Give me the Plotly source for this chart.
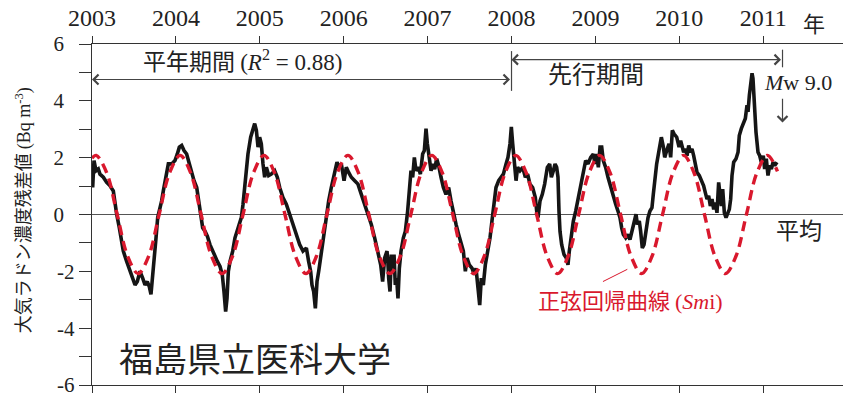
import plotly.graph_objects as go

# Observed radon residuals (Bq m^-3), decimal year vs value
obs_t = [
    2003.008, 2003.024, 2003.048, 2003.075, 2003.095, 2003.135, 2003.175, 2003.215, 2003.254, 2003.274,
    2003.294, 2003.326, 2003.354, 2003.373, 2003.413, 2003.445, 2003.473, 2003.513, 2003.540, 2003.572,
    2003.604, 2003.632, 2003.659, 2003.683, 2003.703, 2003.723, 2003.739, 2003.763, 2003.783, 2003.803,
    2003.830, 2003.850, 2003.882, 2003.910, 2003.950, 2003.989, 2004.017, 2004.041, 2004.069, 2004.097,
    2004.128, 2004.148, 2004.168, 2004.188, 2004.216, 2004.248, 2004.267, 2004.295, 2004.319, 2004.347,
    2004.375, 2004.406, 2004.438, 2004.466, 2004.494, 2004.526, 2004.553, 2004.573, 2004.593, 2004.609,
    2004.625, 2004.645, 2004.677, 2004.704, 2004.744, 2004.780, 2004.800, 2004.820, 2004.839, 2004.859,
    2004.891, 2004.919, 2004.939, 2004.959, 2004.979, 2004.998, 2005.018, 2005.038, 2005.058, 2005.078,
    2005.106, 2005.137, 2005.177, 2005.209, 2005.237, 2005.276, 2005.316, 2005.356, 2005.396, 2005.435,
    2005.475, 2005.515, 2005.555, 2005.582, 2005.606, 2005.622, 2005.642, 2005.662, 2005.682, 2005.702,
    2005.733, 2005.765, 2005.793, 2005.821, 2005.852, 2005.892, 2005.920, 2005.944, 2005.972, 2006.004,
    2006.031, 2006.059, 2006.091, 2006.131, 2006.170, 2006.210, 2006.250, 2006.290, 2006.329, 2006.369,
    2006.409, 2006.441, 2006.464, 2006.488, 2006.516, 2006.524, 2006.536, 2006.552, 2006.568, 2006.584,
    2006.600, 2006.615, 2006.631, 2006.647, 2006.663, 2006.683, 2006.711, 2006.735, 2006.762, 2006.782,
    2006.802, 2006.822, 2006.842, 2006.862, 2006.890, 2006.914, 2006.941, 2006.961, 2006.981, 2006.997,
    2007.013, 2007.041, 2007.060, 2007.084, 2007.108, 2007.132, 2007.160, 2007.188, 2007.219, 2007.251,
    2007.279, 2007.307, 2007.339, 2007.370, 2007.398, 2007.426, 2007.450, 2007.470, 2007.497, 2007.529,
    2007.557, 2007.577, 2007.601, 2007.621, 2007.640, 2007.664, 2007.688, 2007.716, 2007.744, 2007.767,
    2007.791, 2007.815, 2007.847, 2007.875, 2007.903, 2007.935, 2007.958, 2007.982, 2007.998, 2008.014,
    2008.034, 2008.054, 2008.073, 2008.101, 2008.133, 2008.165, 2008.192, 2008.220, 2008.252, 2008.284,
    2008.300, 2008.316, 2008.340, 2008.367, 2008.395, 2008.427, 2008.455, 2008.475, 2008.499, 2008.519,
    2008.538, 2008.554, 2008.566, 2008.578, 2008.598, 2008.626, 2008.653, 2008.673, 2008.689, 2008.713,
    2008.737, 2008.765, 2008.797, 2008.824, 2008.856, 2008.884, 2008.912, 2008.944, 2008.975, 2008.995,
    2009.015, 2009.035, 2009.055, 2009.075, 2009.094, 2009.122, 2009.150, 2009.182, 2009.214, 2009.242,
    2009.269, 2009.293, 2009.313, 2009.333, 2009.361, 2009.388, 2009.412, 2009.436, 2009.460, 2009.484,
    2009.500, 2009.523, 2009.539, 2009.559, 2009.579, 2009.603, 2009.627, 2009.650, 2009.674, 2009.690,
    2009.706, 2009.730, 2009.758, 2009.786, 2009.810, 2009.826, 2009.850, 2009.877, 2009.897, 2009.917,
    2009.937, 2009.969, 2009.997, 2010.016, 2010.052, 2010.072, 2010.092, 2010.112, 2010.131, 2010.151,
    2010.171, 2010.191, 2010.211, 2010.239, 2010.263, 2010.290, 2010.310, 2010.330, 2010.350, 2010.370,
    2010.390, 2010.410, 2010.429, 2010.449, 2010.469, 2010.485, 2010.501, 2010.517, 2010.537, 2010.557,
    2010.580, 2010.596, 2010.612, 2010.628, 2010.648, 2010.676, 2010.700, 2010.715, 2010.739, 2010.767,
    2010.787, 2010.807, 2010.819, 2010.835, 2010.851, 2010.867, 2010.878, 2010.894, 2010.914, 2010.938,
    2010.958, 2010.978, 2011.001, 2011.017, 2011.037, 2011.057, 2011.077, 2011.097, 2011.117, 2011.137,
    2011.164,
]
obs_v = [
    0.95, 1.90, 1.54, 1.60, 1.42, 1.31, 1.13, 1.01, 0.83, 0.36,
    0.01, -0.47, -0.94, -1.29, -1.65, -1.89, -2.12, -2.48, -2.36, -2.00,
    -2.24, -2.48, -2.36, -2.54, -2.81, -2.24, -1.53, -0.82, -0.11, 0.12,
    0.48, 0.83, 1.31, 1.78, 1.78, 1.90, 2.13, 2.37, 2.43, 2.25,
    2.13, 1.90, 1.66, 1.42, 1.19, 0.95, 0.60, 0.12, -0.47, -0.59,
    -0.76, -1.06, -1.29, -1.53, -1.65, -1.83, -2.12, -2.71, -3.42, -2.95,
    -2.00, -1.65, -1.29, -0.82, -0.41, -0.11, 0.36, 0.95, 1.54, 2.13,
    2.72, 3.08, 3.20, 2.96, 2.37, 2.72, 2.49, 1.78, 1.31, 1.66,
    1.37, 1.42, 1.54, 1.31, 0.95, 0.60, 0.36, 0.01, -0.35, -0.70,
    -1.06, -1.29, -1.18, -1.65, -2.00, -2.48, -2.71, -3.30, -2.36, -2.00,
    -1.29, -0.59, 0.01, 0.48, 0.95, 1.42, 1.84, 1.66, 1.78, 1.19,
    1.66, 1.48, 1.31, 1.19, 1.07, 0.71, 0.36, 0.01, -0.35, -0.82,
    -1.29, -1.77, -2.36, -1.53, -1.29, -1.53, -2.24, -2.71, -1.41, -1.89,
    -1.41, -2.48, -2.24, -2.95, -1.89, -1.29, -0.82, -0.59, 0.12, 0.71,
    1.54, 1.31, 2.01, 1.54, 1.66, 1.42, 2.13, 2.25, 3.02, 2.49,
    2.13, 1.54, 1.78, 1.60, 1.96, 1.72, 1.31, 0.95, 0.71, 0.95,
    0.48, 0.01, -0.35, -0.70, -1.06, -1.29, -2.00, -1.53, -1.77, -1.89,
    -2.12, -1.89, -2.60, -3.19, -2.24, -2.48, -1.77, -1.29, -0.82, -0.23,
    0.48, 0.95, 1.19, 1.31, 1.42, 1.78, 2.01, 2.49, 3.08, 2.49,
    1.90, 1.19, 1.66, 1.54, 1.66, 1.31, 1.42, 1.07, 0.95, 0.60,
    0.12, -0.11, 0.48, 0.71, 1.07, 1.66, 1.78, 1.31, 1.54, 1.78,
    1.66, 1.31, 0.12, -0.59, -1.06, -1.41, -1.53, -1.77, -1.29, -0.70,
    -0.23, 0.12, 0.60, 0.95, 1.54, 1.90, 1.78, 2.01, 2.13, 1.78,
    2.13, 1.66, 2.37, 2.37, 1.90, 1.66, 1.31, 0.95, 0.60, 0.36,
    0.12, -0.11, -0.47, -0.70, -0.82, -0.70, -0.88, -0.59, -0.35, 0.01,
    -0.35, -0.23, -0.59, -1.18, -1.06, -0.59, -0.11, 0.12, 0.24, 0.71,
    1.19, 1.78, 2.25, 2.72, 2.37, 2.01, 2.25, 2.49, 2.01, 2.96,
    2.84, 2.72, 2.37, 2.60, 2.19, 2.31, 2.07, 2.43, 2.19, 2.31,
    2.07, 1.72, 1.48, 1.37, 1.19, 1.01, 0.77, 0.54, 0.66, 0.30,
    0.54, 0.18, 0.42, 0.06, 1.13, 0.77, 0.30, 0.89, 0.06, -0.11,
    0.06, 0.18, 0.54, 1.37, 1.84, 1.96, 2.19, 2.78, 3.02, 3.26,
    3.38, 3.85, 3.61, 4.20, 4.56, 4.97, 4.79, 3.85, 2.90, 2.19,
    2.07, 1.84, 2.07, 1.60, 1.96, 1.37, 1.72, 1.60, 1.84, 1.72,
    1.84,
]

# Sine regression curve (Sm_i), read at peaks, troughs, crossings and midpoints
fit_t = [
    2003.000, 2003.050, 2003.175, 2003.300, 2003.425, 2003.550, 2003.675, 2003.800, 2003.925,
    2004.050, 2004.175, 2004.300, 2004.425, 2004.550, 2004.675, 2004.800, 2004.925,
    2005.050, 2005.175, 2005.300, 2005.425, 2005.550, 2005.675, 2005.800, 2005.925,
    2006.050, 2006.175, 2006.300, 2006.425, 2006.550, 2006.675, 2006.800, 2006.925,
    2007.050, 2007.175, 2007.300, 2007.425, 2007.550, 2007.675, 2007.800, 2007.925,
    2008.050, 2008.175, 2008.300, 2008.425, 2008.550, 2008.675, 2008.800, 2008.925,
    2009.050, 2009.175, 2009.300, 2009.425, 2009.550, 2009.675, 2009.800, 2009.925,
    2010.050, 2010.175, 2010.300, 2010.425, 2010.550, 2010.675, 2010.800, 2010.925,
    2011.050, 2011.170,
]
fit_v = [
    1.98, 2.08, 1.47, 0.00, -1.47, -2.08, -1.47, 0.00, 1.47,
    2.08, 1.47, 0.00, -1.47, -2.08, -1.47, 0.00, 1.47,
    2.08, 1.47, 0.00, -1.47, -2.08, -1.47, 0.00, 1.47,
    2.08, 1.47, 0.00, -1.47, -2.08, -1.47, 0.00, 1.47,
    2.08, 1.47, 0.00, -1.47, -2.08, -1.47, 0.00, 1.47,
    2.08, 1.47, 0.00, -1.47, -2.08, -1.47, 0.00, 1.47,
    2.08, 1.47, 0.00, -1.47, -2.08, -1.47, 0.00, 1.47,
    2.08, 1.47, 0.00, -1.47, -2.08, -1.47, 0.00, 1.47,
    2.08, 1.52,
]

year_ticks = [2003, 2004, 2005, 2006, 2007, 2008, 2009, 2010, 2011]
year_labels = [str(y) for y in year_ticks]
y_ticks = [-6, -4, -2, 0, 2, 4, 6]
y_labels = ["-6", "-4", "-2", "0\u2007", "2\u2007", "4\u2007", "6\u2007"]
y_minor = [-5, -3, -1, 1, 3, 5]

quake_t = 2011.23      # Mw 9.0 event marker
normal_end = 2008.0    # end of the baseline period

SERIF = "Liberation Serif"
SANS = "Noto Sans CJK JP"
RED = "#d9182d"
INK = "#222222"
AX = "#333333"

fig = go.Figure()
fig.add_trace(go.Scatter(x=obs_t, y=obs_v, mode="lines",
                         line=dict(color="#151515", width=3.6), hoverinfo="skip"))
fig.add_trace(go.Scatter(x=fit_t, y=fit_v, mode="lines",
                         line=dict(color=RED, width=3.4, dash="10px,6px", shape="spline", smoothing=1.0),
                         hoverinfo="skip"))

fig.update_layout(
    width=843, height=399,
    margin=dict(l=92, r=0, t=44, b=14),
    paper_bgcolor="white", plot_bgcolor="white",
    showlegend=False,
    xaxis=dict(range=[2003, 2011.951], side="top", tickvals=year_ticks, ticktext=year_labels,
               ticks="outside", ticklen=7, tickwidth=1.4, tickcolor=AX,
               showline=True, linecolor=AX, linewidth=1.4, mirror="ticks",
               showgrid=False, zeroline=False,
               tickfont=dict(family=SERIF, size=24, color=INK)),
    yaxis=dict(range=[-6, 6], tickvals=y_ticks, ticktext=y_labels,
               ticks="outside", ticklen=12, tickwidth=1.4, tickcolor=AX,
               minor=dict(tickvals=y_minor, ticks="outside", ticklen=12, tickwidth=1.4, tickcolor=AX),
               showline=True, linecolor=AX, linewidth=1.4,
               showgrid=False, zeroline=True, zerolinecolor="#555555", zerolinewidth=1,
               tickfont=dict(family=SERIF, size=21, color=INK)),
)

serif_span = '<span style="font-family:%s">' % SERIF
annotations = [
    # y-axis title
    dict(xref="paper", yref="paper", x=-0.093, y=0.513, xanchor="center", yanchor="middle",
         textangle=-90, showarrow=False,
         text="大気ラドン濃度残差値 " + serif_span + "(Bq m<sup>-3</sup>)</span>",
         font=dict(family=SANS, size=18, color=INK)),
    # unit after the last year label
    dict(xref="x", yref="paper", x=2011.6, y=1.064, xanchor="center", yanchor="middle",
         showarrow=False, text="年", font=dict(family=SANS, size=22, color=INK)),
    # period labels
    dict(xref="x", yref="y", x=2004.79, y=5.44, showarrow=False,
         text="平年期間 " + serif_span + "(<i>R</i><sup>2</sup> = 0.88)</span>",
         font=dict(family=SANS, size=23, color=INK)),
    dict(xref="x", yref="y", x=2009.01, y=4.98, showarrow=False, text="先行期間",
         font=dict(family=SANS, size=24, color=INK)),
    dict(xref="x", yref="y", x=2011.42, y=4.66, showarrow=False,
         text="<i>M</i>w 9.0", font=dict(family=SERIF, size=22, color=INK)),
    dict(xref="x", yref="y", x=2011.43, y=-0.52, showarrow=False, text="平均",
         font=dict(family=SANS, size=23, color=INK)),
    dict(xref="x", yref="y", x=2009.42, y=-2.97, showarrow=False,
         text="正弦回帰曲線 " + serif_span + "(<i>Sm</i>i)</span>",
         font=dict(family=SANS, size=22, color=RED)),
    dict(xref="x", yref="y", x=2004.94, y=-5.02, showarrow=False, text="福島県立医科大学",
         font=dict(family=SANS, size=34, color=INK)),
    # period arrows
    dict(xref="x", yref="y", axref="x", ayref="y", x=2003.0, y=4.75, ax=normal_end, ay=4.75,
         text="", showarrow=True, arrowside="end+start", arrowhead=4, startarrowhead=4,
         arrowsize=1.6, startarrowsize=1.6, arrowwidth=1.2, arrowcolor="#444444"),
    dict(xref="x", yref="y", axref="x", ayref="y", x=normal_end, y=5.45, ax=quake_t, ay=5.45,
         text="", showarrow=True, arrowside="end+start", arrowhead=4, startarrowhead=4,
         arrowsize=1.6, startarrowsize=1.6, arrowwidth=1.2, arrowcolor="#444444"),
    # event arrow
    dict(xref="x", yref="y", axref="x", ayref="y", x=quake_t, y=3.24, ax=quake_t, ay=4.13,
         text="", showarrow=True, arrowhead=4, arrowsize=1.6, arrowwidth=1.2, arrowcolor="#444444"),
]
fig.update_layout(annotations=annotations)

fig.add_shape(type="line", xref="x", yref="y", x0=normal_end, x1=normal_end, y0=4.35, y1=5.75,
              line=dict(color="#444444", width=1.2))
fig.add_shape(type="line", xref="x", yref="y", x0=quake_t, x1=quake_t, y0=5.18, y1=5.8,
              line=dict(color="#444444", width=1.2))
# leader from the fit label to the curve
fig.add_shape(type="line", xref="x", yref="y", x0=2009.09, x1=2009.38, y0=-2.36, y1=-1.93,
              line=dict(color=RED, width=1))

fig.write_html("out.html")
